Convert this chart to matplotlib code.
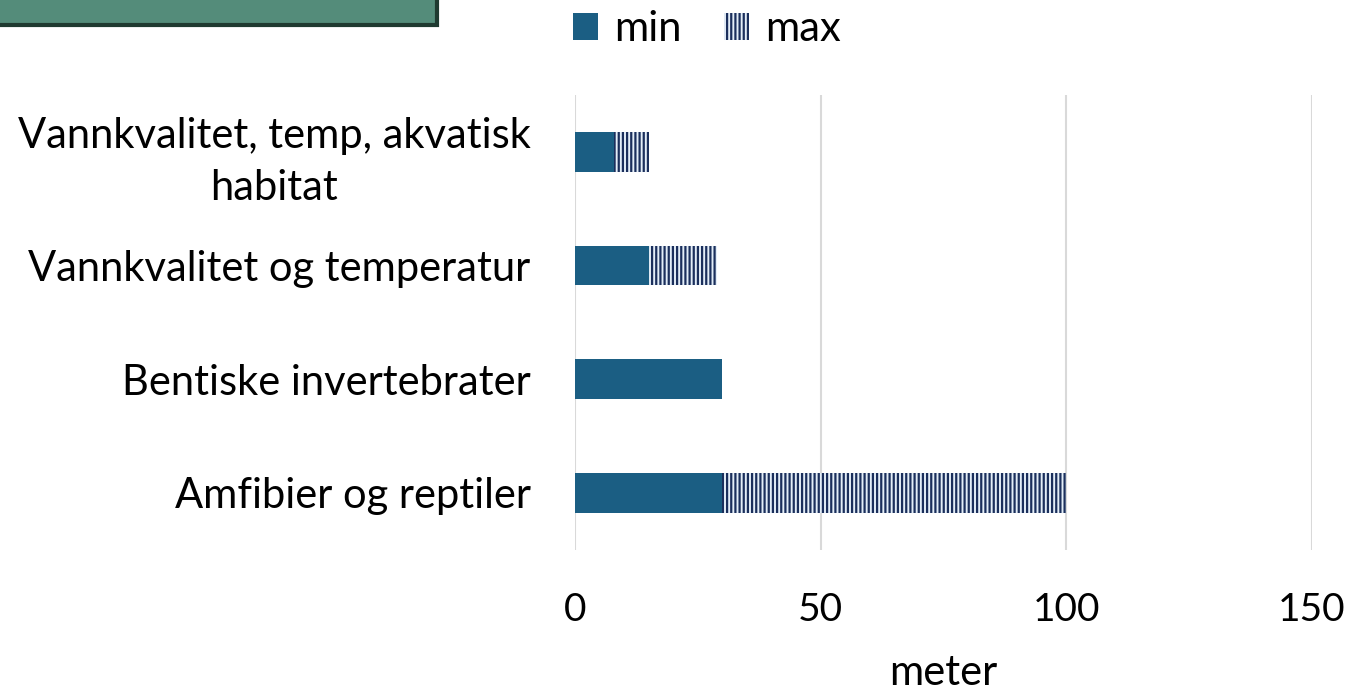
import matplotlib
matplotlib.use("Agg")
import matplotlib.pyplot as plt
from matplotlib.patches import Rectangle

categories = ["Amfibier og reptiler", "Bentiske invertebrater",
              "Vannkvalitet og temperatur", "Vannkvalitet, temp, akvatisk\nhabitat"]
min_vals = [30, 30, 15, 8]
max_extra = [70, 0, 14, 7]
xticks = [0, 50, 100, 150]

plt.rcParams['font.family'] = ['Lato', 'DejaVu Sans']
plt.rcParams['hatch.linewidth'] = 1.6
plt.rcParams['hatch.color'] = '#1b2f5c'

fig = plt.figure(figsize=(13.51, 6.96), dpi=100)
ax = fig.add_axes([0.4256, 0.21, 0.5455, 0.6535])

y = range(len(categories))
ax.barh(y, min_vals, height=0.35, color='#1b5e83', label='min', zorder=3)
ax.barh(y, max_extra, left=min_vals, height=0.35, color='#e4eef8',
        edgecolor='#1b2f5c', hatch='||||', linewidth=0, label='max', zorder=3)

ax.set_xlim(0, 150)
ax.set_ylim(-0.5, 3.5)
ax.set_xticks(xticks)
ax.set_xticklabels([str(v) for v in xticks], fontsize=28)
ax.set_yticks(list(y))
ax.set_yticklabels(categories, fontsize=30, linespacing=1.45, multialignment='center')
ax.tick_params(axis='both', length=0)
ax.tick_params(axis='x', pad=30)
ax.tick_params(axis='y', pad=32)
ax.grid(axis='x', color='#d9d9d9', linewidth=1.5, zorder=0)
for s in ax.spines.values():
    s.set_visible(False)
ax.set_xlabel('meter', fontsize=30, labelpad=19)

ax.legend(loc='center', bbox_to_anchor=(0.179, 1.145), ncol=2, frameon=False,
          fontsize=30, handlelength=0.6, handleheight=0.6, handletextpad=0.4,
          columnspacing=1.0)

fig.patches.append(Rectangle((-0.01, 1 - 25/696), 0.01 + 437/1351, 0.06,
                             transform=fig.transFigure, facecolor='#548c7a',
                             edgecolor='#1f3a30', linewidth=3, zorder=5))

fig.savefig('out.png', dpi=100)
